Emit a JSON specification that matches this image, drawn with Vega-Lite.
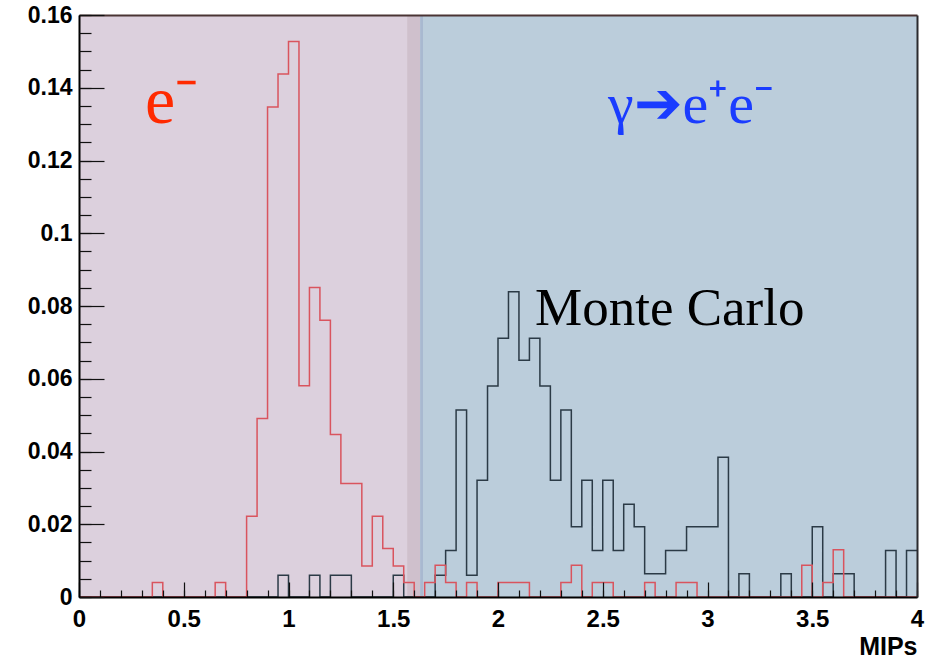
{
"$schema": "https://vega.github.io/schema/vega-lite/v6.json",
"width": 838, "height": 582, "autosize": "none",
"padding": {"left": 79, "top": 15, "right": 22, "bottom": 63},
"background": "white",
"config": {"view": {"stroke": null}},
"datasets": {
"regions": [
{"r": "e", "a": 0, "b": 1.566},
{"r": "band", "a": 1.566, "b": 1.628},
{"r": "edge", "a": 1.628, "b": 1.642},
{"r": "gamma", "a": 1.642, "b": 4}
],
"notes": [
{"t": "e⁻", "k": "e", "x": 0.315, "y": 0.1304},
{"t": "γ➔e⁺e⁻", "k": "g", "x": 2.525, "y": 0.1304},
{"t": "Monte Carlo", "k": "mc", "x": 2.177, "y": 0.0748}
],
"hist": [
{"s":"gamma","x":0,"y":0},{"s":"gamma","x":0.05,"y":0},{"s":"gamma","x":0.1,"y":0},{"s":"gamma","x":0.15,"y":0},{"s":"gamma","x":0.2,"y":0},{"s":"gamma","x":0.25,"y":0},{"s":"gamma","x":0.3,"y":0},{"s":"gamma","x":0.35,"y":0},{"s":"gamma","x":0.4,"y":0},{"s":"gamma","x":0.45,"y":0},
{"s":"gamma","x":0.5,"y":0},{"s":"gamma","x":0.55,"y":0},{"s":"gamma","x":0.6,"y":0},{"s":"gamma","x":0.65,"y":0},{"s":"gamma","x":0.7,"y":0},{"s":"gamma","x":0.75,"y":0},{"s":"gamma","x":0.8,"y":0},{"s":"gamma","x":0.85,"y":0},{"s":"gamma","x":0.9,"y":0},{"s":"gamma","x":0.95,"y":0.006},
{"s":"gamma","x":1.0,"y":0},{"s":"gamma","x":1.05,"y":0},{"s":"gamma","x":1.1,"y":0.006},{"s":"gamma","x":1.15,"y":0},{"s":"gamma","x":1.2,"y":0.006},{"s":"gamma","x":1.25,"y":0.006},{"s":"gamma","x":1.3,"y":0},{"s":"gamma","x":1.35,"y":0},{"s":"gamma","x":1.4,"y":0},{"s":"gamma","x":1.45,"y":0},
{"s":"gamma","x":1.5,"y":0.006},{"s":"gamma","x":1.55,"y":0},{"s":"gamma","x":1.6,"y":0},{"s":"gamma","x":1.65,"y":0},{"s":"gamma","x":1.7,"y":0.006},{"s":"gamma","x":1.75,"y":0.0128},{"s":"gamma","x":1.8,"y":0.0514},{"s":"gamma","x":1.85,"y":0.006},{"s":"gamma","x":1.9,"y":0.0321},{"s":"gamma","x":1.95,"y":0.058},
{"s":"gamma","x":2.0,"y":0.0711},{"s":"gamma","x":2.05,"y":0.0839},{"s":"gamma","x":2.1,"y":0.0651},{"s":"gamma","x":2.15,"y":0.0711},{"s":"gamma","x":2.2,"y":0.058},{"s":"gamma","x":2.25,"y":0.0321},{"s":"gamma","x":2.3,"y":0.0514},{"s":"gamma","x":2.35,"y":0.0193},{"s":"gamma","x":2.4,"y":0.0321},{"s":"gamma","x":2.45,"y":0.0128},
{"s":"gamma","x":2.5,"y":0.0321},{"s":"gamma","x":2.55,"y":0.0128},{"s":"gamma","x":2.6,"y":0.0255},{"s":"gamma","x":2.65,"y":0.0193},{"s":"gamma","x":2.7,"y":0.0064},{"s":"gamma","x":2.75,"y":0.0064},{"s":"gamma","x":2.8,"y":0.0128},{"s":"gamma","x":2.85,"y":0.0128},{"s":"gamma","x":2.9,"y":0.0193},{"s":"gamma","x":2.95,"y":0.0193},
{"s":"gamma","x":3.0,"y":0.0193},{"s":"gamma","x":3.05,"y":0.0384},{"s":"gamma","x":3.1,"y":0},{"s":"gamma","x":3.15,"y":0.0064},{"s":"gamma","x":3.2,"y":0},{"s":"gamma","x":3.25,"y":0},{"s":"gamma","x":3.3,"y":0},{"s":"gamma","x":3.35,"y":0.0064},{"s":"gamma","x":3.4,"y":0},{"s":"gamma","x":3.45,"y":0},
{"s":"gamma","x":3.5,"y":0.0193},{"s":"gamma","x":3.55,"y":0},{"s":"gamma","x":3.6,"y":0.0064},{"s":"gamma","x":3.65,"y":0.0064},{"s":"gamma","x":3.7,"y":0},{"s":"gamma","x":3.75,"y":0},{"s":"gamma","x":3.8,"y":0},{"s":"gamma","x":3.85,"y":0.0128},{"s":"gamma","x":3.9,"y":0},{"s":"gamma","x":3.95,"y":0.0128},
{"s":"gamma","x":4.0,"y":0.0128},
{"s":"e","x":0,"y":0},{"s":"e","x":0.05,"y":0},{"s":"e","x":0.1,"y":0},{"s":"e","x":0.15,"y":0},{"s":"e","x":0.2,"y":0},{"s":"e","x":0.25,"y":0},{"s":"e","x":0.3,"y":0},{"s":"e","x":0.35,"y":0.004},{"s":"e","x":0.4,"y":0},{"s":"e","x":0.45,"y":0},
{"s":"e","x":0.5,"y":0},{"s":"e","x":0.55,"y":0},{"s":"e","x":0.6,"y":0},{"s":"e","x":0.65,"y":0.004},{"s":"e","x":0.7,"y":0},{"s":"e","x":0.75,"y":0},{"s":"e","x":0.8,"y":0.0222},{"s":"e","x":0.85,"y":0.0491},{"s":"e","x":0.9,"y":0.1347},{"s":"e","x":0.95,"y":0.1438},
{"s":"e","x":1.0,"y":0.1527},{"s":"e","x":1.05,"y":0.0581},{"s":"e","x":1.1,"y":0.0851},{"s":"e","x":1.15,"y":0.0761},{"s":"e","x":1.2,"y":0.0447},{"s":"e","x":1.25,"y":0.0312},{"s":"e","x":1.3,"y":0.0312},{"s":"e","x":1.35,"y":0.0085},{"s":"e","x":1.4,"y":0.0222},{"s":"e","x":1.45,"y":0.0133},
{"s":"e","x":1.5,"y":0.0085},{"s":"e","x":1.55,"y":0.004},{"s":"e","x":1.6,"y":0},{"s":"e","x":1.65,"y":0.004},{"s":"e","x":1.7,"y":0.0087},{"s":"e","x":1.75,"y":0.004},{"s":"e","x":1.8,"y":0},{"s":"e","x":1.85,"y":0.004},{"s":"e","x":1.9,"y":0},{"s":"e","x":1.95,"y":0},
{"s":"e","x":2.0,"y":0.004},{"s":"e","x":2.05,"y":0.004},{"s":"e","x":2.1,"y":0.004},{"s":"e","x":2.15,"y":0},{"s":"e","x":2.2,"y":0},{"s":"e","x":2.25,"y":0},{"s":"e","x":2.3,"y":0.004},{"s":"e","x":2.35,"y":0.0087},{"s":"e","x":2.4,"y":0},{"s":"e","x":2.45,"y":0.004},
{"s":"e","x":2.5,"y":0.004},{"s":"e","x":2.55,"y":0},{"s":"e","x":2.6,"y":0},{"s":"e","x":2.65,"y":0},{"s":"e","x":2.7,"y":0.004},{"s":"e","x":2.75,"y":0},{"s":"e","x":2.8,"y":0},{"s":"e","x":2.85,"y":0.004},{"s":"e","x":2.9,"y":0.004},{"s":"e","x":2.95,"y":0},
{"s":"e","x":3.0,"y":0},{"s":"e","x":3.05,"y":0},{"s":"e","x":3.1,"y":0},{"s":"e","x":3.15,"y":0},{"s":"e","x":3.2,"y":0},{"s":"e","x":3.25,"y":0},{"s":"e","x":3.3,"y":0},{"s":"e","x":3.35,"y":0},{"s":"e","x":3.4,"y":0},{"s":"e","x":3.45,"y":0.0087},
{"s":"e","x":3.5,"y":0},{"s":"e","x":3.55,"y":0.004},{"s":"e","x":3.6,"y":0.013},{"s":"e","x":3.65,"y":0},{"s":"e","x":3.7,"y":0},{"s":"e","x":3.75,"y":0},{"s":"e","x":3.8,"y":0},{"s":"e","x":3.85,"y":0},{"s":"e","x":3.9,"y":0},{"s":"e","x":3.95,"y":0},
{"s":"e","x":4.0,"y":0}
]
},
"resolve": {"axis": {"x": "independent", "y": "independent"}, "scale": {"color": "independent", "fill": "independent"}},
"layer": [
{
"data": {"name": "regions"},
"mark": {"type": "rect"},
"encoding": {
"x": {"field": "a", "type": "quantitative", "scale": {"domain": [0, 4], "nice": false, "zero": false},
"axis": {"orient": "bottom", "values": [0,0.1,0.2,0.3,0.4,0.5,0.6,0.7,0.8,0.9,1,1.1,1.2,1.3,1.4,1.5,1.6,1.7,1.8,1.9,2,2.1,2.2,2.3,2.4,2.5,2.6,2.7,2.8,2.9,3,3.1,3.2,3.3,3.4,3.5,3.6,3.7,3.8,3.9,4],
"tickSize": -7, "tickColor": "#111111", "tickWidth": 1.2, "labels": false, "domain": false, "grid": false, "title": null, "zindex": 1}},
"x2": {"field": "b"},
"y": {"datum": 0, "type": "quantitative", "scale": {"domain": [0, 0.16], "nice": false},
"axis": {"orient": "right", "ticks": false, "labels": false, "grid": false, "domain": true, "domainColor": "#2a2a2e", "domainWidth": 2, "title": null, "zindex": 1}},
"y2": {"datum": 0.16},
"fill": {"field": "r", "type": "nominal", "scale": {"domain": ["e", "band", "edge", "gamma"], "range": ["#dcd0dd", "#cfc0cc", "#a9b9d0", "#bbcddb"]}, "legend": null}
}
},
{
"data": {"name": "hist"},
"mark": {"type": "line", "interpolate": "step-after", "strokeWidth": 1.5},
"encoding": {
"x": {"field": "x", "type": "quantitative", "scale": {"domain": [0, 4], "nice": false, "zero": false},
"axis": {"orient": "bottom", "values": [0,0.5,1,1.5,2,2.5,3,3.5,4], "format": "~g", "tickSize": -15, "tickColor": "#111111", "tickWidth": 1.2,
"domainColor": "#000000", "domainWidth": 2, "grid": false, "labelFont": "Liberation Sans", "labelFontWeight": "bold", "labelFontSize": 24, "labelColor": "#000000",
"labelPadding": 25, "labelFlush": false, "labelOverlap": false, "zindex": 1,
"title": "MIPs", "titleFont": "Liberation Sans", "titleFontWeight": "bold", "titleFontSize": 25, "titleColor": "#000000",
"titleAnchor": "end", "titleAlign": "right", "titleX": 838, "titleY": 57, "titleBaseline": "alphabetic"}},
"y": {"field": "y", "type": "quantitative", "scale": {"domain": [0, 0.16], "nice": false},
"axis": {"orient": "left", "values": [0,0.02,0.04,0.06,0.08,0.1,0.12,0.14,0.16], "format": "~g", "tickSize": -25, "tickColor": "#111111", "tickWidth": 1.2,
"domainColor": "#000000", "domainWidth": 2, "grid": false, "labelFont": "Liberation Sans", "labelFontWeight": "bold", "labelFontSize": 23, "labelColor": "#000000",
"labelPadding": 32, "labelFlush": false, "labelOverlap": false, "zindex": 1, "title": null}},
"color": {"field": "s", "type": "nominal", "scale": {"domain": ["gamma", "e"], "range": ["#2b3a46", "#d9545e"]}, "legend": null}
}
},
{
"data": {"name": "notes"},
"mark": {"type": "text", "font": "Liberation Serif", "align": "left", "baseline": "alphabetic"},
"encoding": {
"x": {"field": "x", "type": "quantitative", "scale": {"domain": [0, 4], "nice": false, "zero": false},
"axis": {"orient": "top", "ticks": false, "labels": false, "grid": false, "domain": true, "domainColor": "#4a3434", "domainWidth": 2, "title": null, "zindex": 1}},
"y": {"field": "y", "type": "quantitative", "scale": {"domain": [0, 0.16], "nice": false},
"axis": {"orient": "left", "values": [0,0.005,0.01,0.015,0.02,0.025,0.03,0.035,0.04,0.045,0.05,0.055,0.06,0.065,0.07,0.075,0.08,0.085,0.09,0.095,0.1,0.105,0.11,0.115,0.12,0.125,0.13,0.135,0.14,0.145,0.15,0.155,0.16],
"tickSize": -12, "tickColor": "#111111", "tickWidth": 1.2, "labels": false, "domain": false, "grid": false, "title": null, "zindex": 1}},
"text": {"field": "t"},
"color": {"field": "k", "type": "nominal", "scale": {"domain": ["e", "g", "mc"], "range": ["#ff2a00", "#1a3cff", "#000000"]}, "legend": null},
"size": {"field": "k", "type": "ordinal", "scale": {"type": "ordinal", "domain": ["e", "g", "mc"], "range": [68, 58, 53]}, "legend": null}
}
}
]
}
